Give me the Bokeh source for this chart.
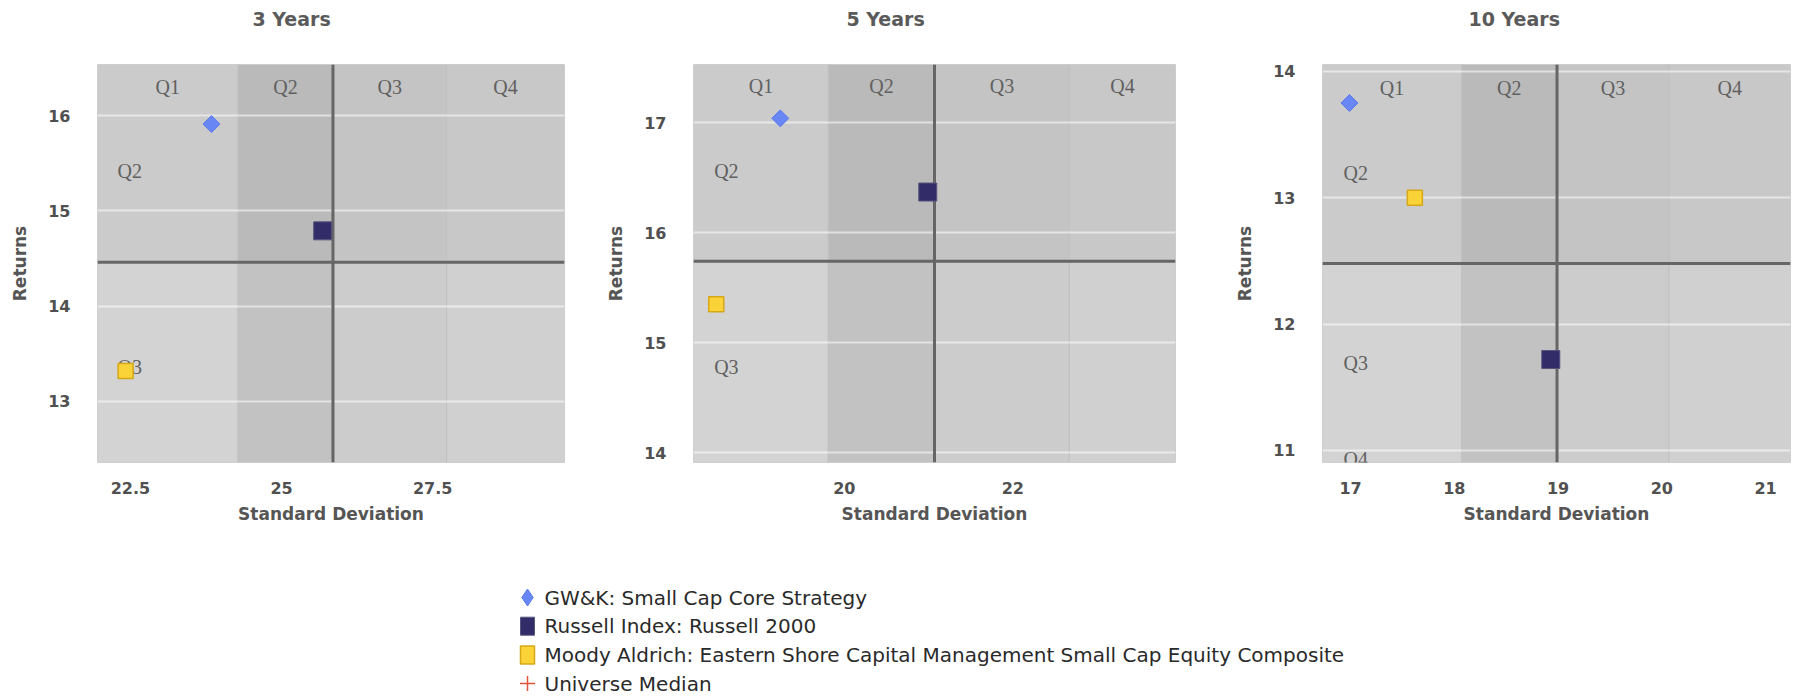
import math
from bokeh.plotting import figure
from bokeh.layouts import column, row
from bokeh.models import Span, Range1d, Title
from bokeh.core.properties import value
from bokeh.embed import file_html
from bokeh.resources import INLINE

# ---------------- data ----------------
periods = ["3 Years", "5 Years", "10 Years"]
series_names = [
    "GW&K: Small Cap Core Strategy",
    "Russell Index: Russell 2000",
    "Moody Aldrich: Eastern Shore Capital Management Small Cap Equity Composite",
    "Universe Median",
]

gwk_sd = [23.84, 19.24, 16.99]
gwk_ret = [15.91, 17.04, 13.75]
r2000_sd = [25.68, 20.99, 18.93]
r2000_ret = [14.79, 16.37, 11.72]
moody_sd = [22.42, 18.48, 17.62]
moody_ret = [13.32, 15.35, 13.00]
median_sd = [25.85, 21.07, 18.99]
median_ret = [14.46, 15.74, 12.48]
lower_break_sd = [24.28, 19.81, 18.07]
upper_break_sd = [27.73, 22.67, 20.07]

x_ranges = [(21.955, 29.68), (18.21, 23.93), (16.73, 21.24)]
y_ranges = [(12.36, 16.535), (13.91, 17.53), (10.905, 14.055)]

x_ticks = [[22.5, 25, 27.5], [20, 22], [17, 18, 19, 20, 21]]
x_tick_labels = [["22.5", "25", "27.5"], ["20", "22"], ["17", "18", "19", "20", "21"]]
y_ticks = [[13, 14, 15, 16], [14, 15, 16, 17], [11, 12, 13, 14]]
y_tick_labels = [["13", "14", "15", "16"], ["14", "15", "16", "17"], ["11", "12", "13", "14"]]

quartile_labels = ["Q1", "Q2", "Q3", "Q4"]
col_label_ret = [16.30, 17.33, 13.87]
row_label_sd = [22.49, 18.60, 17.05]
row_label_names = [["Q2", "Q3"], ["Q2", "Q3"], ["Q2", "Q3", "Q4"]]
row_label_ret = [[15.42, 13.36], [16.56, 14.78], [13.20, 11.69, 10.93]]

# ---------------- style ----------------
GWK_FILL, GWK_LINE = "#6887f4", "#5a79ee"
R2K_FILL, R2K_LINE = "#322c68", "#57547c"
MOODY_FILL, MOODY_LINE = "#fad338", "#d6a817"
MEDIAN_COLOR = "#e0533d"
band_colors = [
    ["#d3d3d3", "#c2c2c2", "#cccccc", "#d0d0d0"],   # below median return
    ["#cbcbcb", "#bababa", "#c4c4c4", "#c8c8c8"],   # above median return
]
TEXT_GREY = "#555555"
FONT = "DejaVu Sans"

PANEL_H = 527
LEGEND_H = 170
FRAME_TOP = 64
FRAME_H = 398
panel_w = [600, 629, 568]
border_l = [97, 93, 93]
border_r = [36, 54, 7]
title_offset = [155, 153, 146]


def make_panel(i):
    p = figure(width=panel_w[i], height=PANEL_H, output_backend="svg", toolbar_location=None,
               tools="", title=None,
               x_range=Range1d(*x_ranges[i]), y_range=Range1d(*y_ranges[i]),
               min_border_left=border_l[i], min_border_right=border_r[i],
               min_border_top=FRAME_TOP, min_border_bottom=PANEL_H - FRAME_TOP - FRAME_H)
    p.background_fill_color = "white"
    p.border_fill_color = "white"
    p.outline_line_color = "#e2e2e2"

    # gap between frame and the period title (stacked nearest the frame)
    p.add_layout(Title(text=" ", text_font=FONT, text_font_size="19px", standoff=9), "above")
    p.add_layout(Title(text=periods[i], align="left", vertical_align="top",
                       offset=title_offset[i], standoff=0, text_font=FONT,
                       text_font_size="19px", text_font_style="bold",
                       text_color="#5a5a5a"), "above")

    # quartile bands
    xe = [x_ranges[i][0], lower_break_sd[i], median_sd[i], upper_break_sd[i], x_ranges[i][1]]
    ye = [y_ranges[i][0], median_ret[i], y_ranges[i][1]]
    left, right, bottom, top, colors = [], [], [], [], []
    for r in range(2):
        for c in range(4):
            left.append(xe[c]); right.append(xe[c + 1])
            bottom.append(ye[r]); top.append(ye[r + 1])
            colors.append(band_colors[r][c])
    p.quad(left=left, right=right, bottom=bottom, top=top, fill_color=colors,
           line_color="#c0c0c0", line_width=1, level="image")

    # median cross lines
    p.add_layout(Span(location=median_sd[i], dimension="height", line_color="#666666",
                      line_width=3, level="underlay"))
    p.add_layout(Span(location=median_ret[i], dimension="width", line_color="#666666",
                      line_width=3, level="underlay"))

    # quartile labels
    centers = [(xe[c] + xe[c + 1]) / 2 for c in range(4)]
    p.text(x=centers, y=[col_label_ret[i]] * 4, text=quartile_labels,
           text_font=value("Liberation Serif"), text_font_size="20px", text_color="#606060",
           text_align="center", text_baseline="middle")
    n = len(row_label_names[i])
    p.text(x=[row_label_sd[i]] * n, y=row_label_ret[i], text=row_label_names[i],
           text_font=value("Liberation Serif"), text_font_size="20px", text_color="#606060",
           text_align="center", text_baseline="middle")

    # series
    p.scatter([gwk_sd[i]], [gwk_ret[i]], marker="square", size=12, angle=math.pi / 4,
              fill_color=GWK_FILL, line_color=GWK_LINE)
    p.scatter([r2000_sd[i]], [r2000_ret[i]], marker="square", size=18,
              fill_color=R2K_FILL, line_color=R2K_LINE)
    p.scatter([moody_sd[i]], [moody_ret[i]], marker="square", size=15,
              fill_color=MOODY_FILL, line_color=MOODY_LINE, line_width=1.5)

    # axes
    p.xaxis.ticker = x_ticks[i]
    p.xaxis.major_label_overrides = {float(k): v for k, v in zip(x_ticks[i], x_tick_labels[i])}
    p.yaxis.ticker = y_ticks[i]
    p.yaxis.major_label_overrides = {float(k): v for k, v in zip(y_ticks[i], y_tick_labels[i])}
    p.xaxis.axis_label = "Standard Deviation"
    p.yaxis.axis_label = "Returns"
    for ax in (p.xaxis[0], p.yaxis[0]):
        ax.axis_line_color = None
        ax.major_tick_line_color = None
        ax.minor_tick_line_color = None
        ax.major_tick_out = 0
        ax.major_tick_in = 0
        ax.major_label_text_font = FONT
        ax.major_label_text_font_size = "16px"
        ax.major_label_text_font_style = "bold"
        ax.major_label_text_color = "#505050"
        ax.axis_label_text_font = FONT
        ax.axis_label_text_font_size = "17px"
        ax.axis_label_text_font_style = "bold"
        ax.axis_label_text_color = TEXT_GREY
    p.xaxis.major_label_standoff = 19
    p.xaxis.axis_label_standoff = 7
    p.yaxis.major_label_standoff = 27
    p.yaxis.axis_label_standoff = 15

    p.xgrid.visible = False
    p.ygrid.grid_line_color = "white"
    p.ygrid.grid_line_alpha = 0.55
    p.ygrid.grid_line_width = 2
    return p


panels = [make_panel(i) for i in range(3)]

# ---------------- legend (drawn in its own screen-space figure) ----------------
total_w = sum(panel_w)
lg = figure(width=total_w, height=LEGEND_H, output_backend="svg", toolbar_location=None,
            tools="", x_axis_location=None, y_axis_location=None, min_border=0,
            x_range=Range1d(0, total_w), y_range=Range1d(LEGEND_H, 0))
lg.outline_line_color = None
lg.background_fill_color = "white"
lg.xgrid.visible = False
lg.ygrid.visible = False

LEG_TOP, LEG_PITCH, LEG_MARK_X, LEG_TEXT_X = 70, 28.7, 527, 544
leg_y = [LEG_TOP + k * LEG_PITCH for k in range(len(series_names))]

lg.scatter([LEG_MARK_X], [leg_y[0]], marker="diamond", size=17,
           fill_color=GWK_FILL, line_color=GWK_LINE)
lg.rect([LEG_MARK_X], [leg_y[1]], width=14, height=18, width_units="screen",
        height_units="screen", fill_color=R2K_FILL, line_color=R2K_LINE)
lg.rect([LEG_MARK_X], [leg_y[2]], width=14, height=18, width_units="screen",
        height_units="screen", fill_color=MOODY_FILL, line_color=MOODY_LINE, line_width=1.5)
lg.scatter([LEG_MARK_X], [leg_y[3]], marker="cross", size=15,
           line_color=MEDIAN_COLOR, line_width=1.5)
lg.text(x=[LEG_TEXT_X] * len(series_names), y=leg_y, text=series_names,
        text_font=value(FONT), text_font_size="20px", text_color="#2a2a2a",
        text_align="left", text_baseline="middle")

layout = column(row(*panels), lg)
open("out.html", "w").write(file_html(layout, INLINE))
